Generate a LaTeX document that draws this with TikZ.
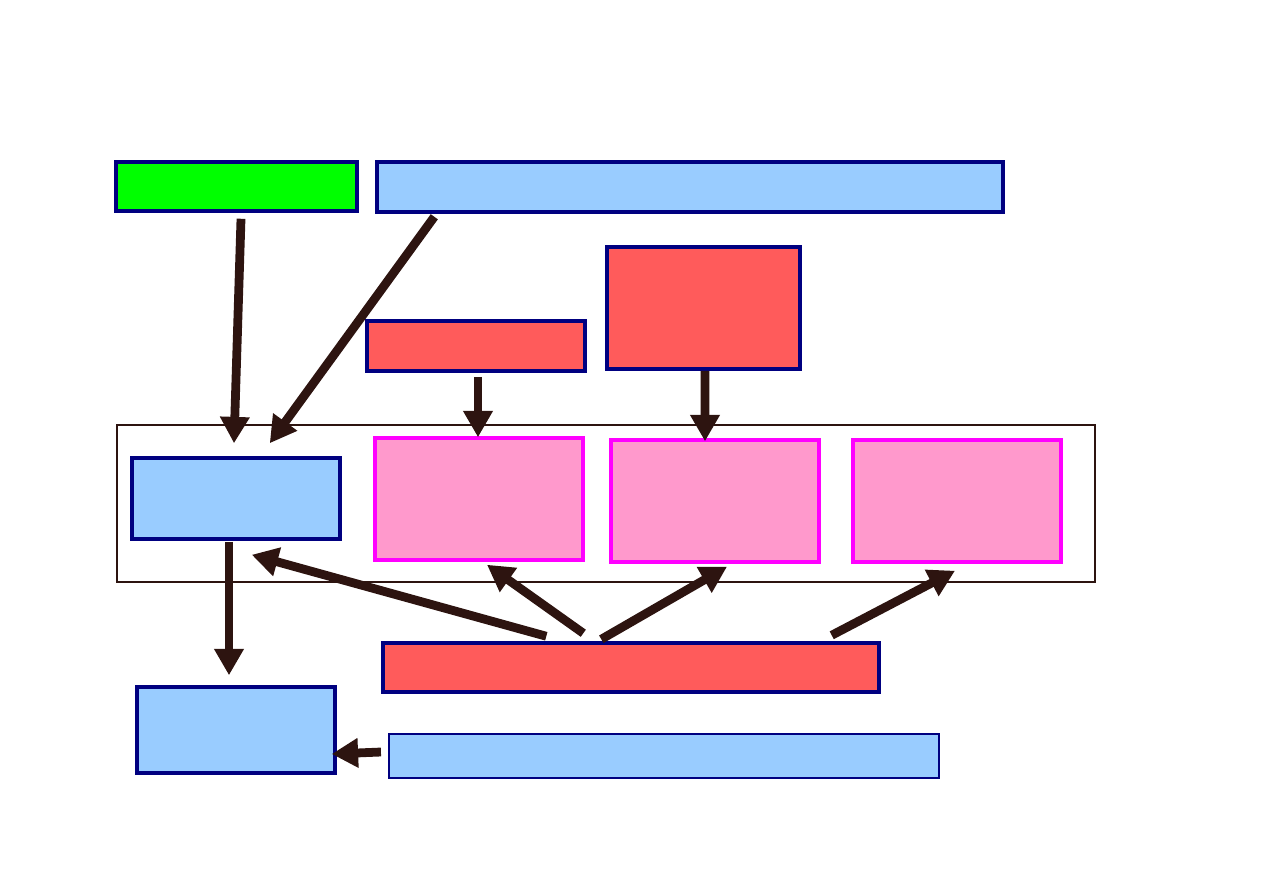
\documentclass[tikz,border=0pt]{standalone}
\usepackage{xcolor}
\usepackage{tikz}
\usetikzlibrary{positioning,arrows.meta,calc}
\definecolor{boxborder}{RGB}{0,0,128}
\definecolor{inputcol}{RGB}{0,255,0}
\definecolor{blockcol}{RGB}{153,204,255}
\definecolor{sourcecol}{RGB}{255,91,91}
\definecolor{unitcol}{RGB}{255,153,204}
\definecolor{unitborder}{RGB}{255,0,255}
\definecolor{arrowcol}{RGB}{45,20,16}

\begin{document}
\begin{tikzpicture}[
                x=0.02cm, y=-0.02cm,
                >={Triangle[length=15pt, width=16pt]},
                box/.style={rectangle, draw=boxborder, line width=2pt, inner sep=0pt},
                unitbox/.style={rectangle, draw=unitborder, fill=unitcol, line width=2pt, inner sep=0pt, minimum width=4.16cm, minimum height=2.44cm},
                arrow/.style={->, line width=5pt, draw=arrowcol}
                ]
                \useasboundingbox (0,0) rectangle (1263,893);

                % top row
                \node[box, fill=inputcol, minimum width=4.82cm, minimum height=0.98cm] (input) at (236.5,186.5) {};
                \node[box, fill=blockcol, minimum width=12.52cm, minimum height=1.0cm] (spec) at (690,187) {};

                % sources above the container
                \node[box, fill=sourcecol, minimum width=4.36cm, minimum height=1.0cm] (srcA) at (476,346) {};
                \node[box, fill=sourcecol, minimum width=3.86cm, minimum height=2.44cm] (srcB) at (703.5,308) {};

                % container
                \node[rectangle, draw=arrowcol, line width=1.2pt, inner sep=0pt, minimum width=19.56cm, minimum height=3.14cm] (frame) at (606,503.5) {};
                \node[box, fill=blockcol, minimum width=4.16cm, minimum height=1.62cm] (proc) at (236,498.5) {};
                \node[unitbox] (unitA) at (479,499) {};
                \node[unitbox] (unitB) at (715,501) {};
                \node[unitbox] (unitC) at (957,501) {};

                % bottom part
                \node[box, fill=sourcecol, minimum width=9.92cm, minimum height=0.98cm] (ctrl) at (631,667.5) {};
                \node[box, fill=blockcol, minimum width=3.96cm, minimum height=1.72cm] (out) at (236,730) {};
                \node[box, fill=blockcol, line width=1.3pt, minimum width=11.0cm, minimum height=0.88cm] (store) at (664,756) {};

                \draw[arrow] ($(input.south)+(4.5,6)$) -- ($(proc.north)+(-2,-13)$);
                \draw[arrow] ($(spec.south west)+(59,3)$) -- ($(proc.north east)+(-72,-13)$);
                \draw[arrow] ($(srcA.south)+(2,4)$) -- ($(unitA.north)+(-1,1)$);
                \draw[arrow] ($(srcB.south)+(1.5,0)$) -- ($(unitB.north)+(-10,3)$);
                \draw[arrow] ($(proc.south)+(-7,1)$) -- ($(out.north)+(-7,-10)$);

                \draw[arrow] ($(ctrl.north west)+(165,-5)$) -- ($(proc.south east)+(-90,14)$);
                \draw[arrow] ($(ctrl.north west)+(202,-8)$) -- ($(unitA.south)+(8,3)$);
                \draw[arrow] ($(ctrl.north west)+(220,-2)$) -- ($(unitB.south)+(12,3)$);
                \draw[arrow] ($(ctrl.north east)+(-49,-6)$) -- ($(unitC.south)+(-2,7)$);
                \draw[arrow] ($(store.west)+(-7,-4)$) -- ($(out.east)+(-5,24)$);
            \end{tikzpicture}
\end{document}
